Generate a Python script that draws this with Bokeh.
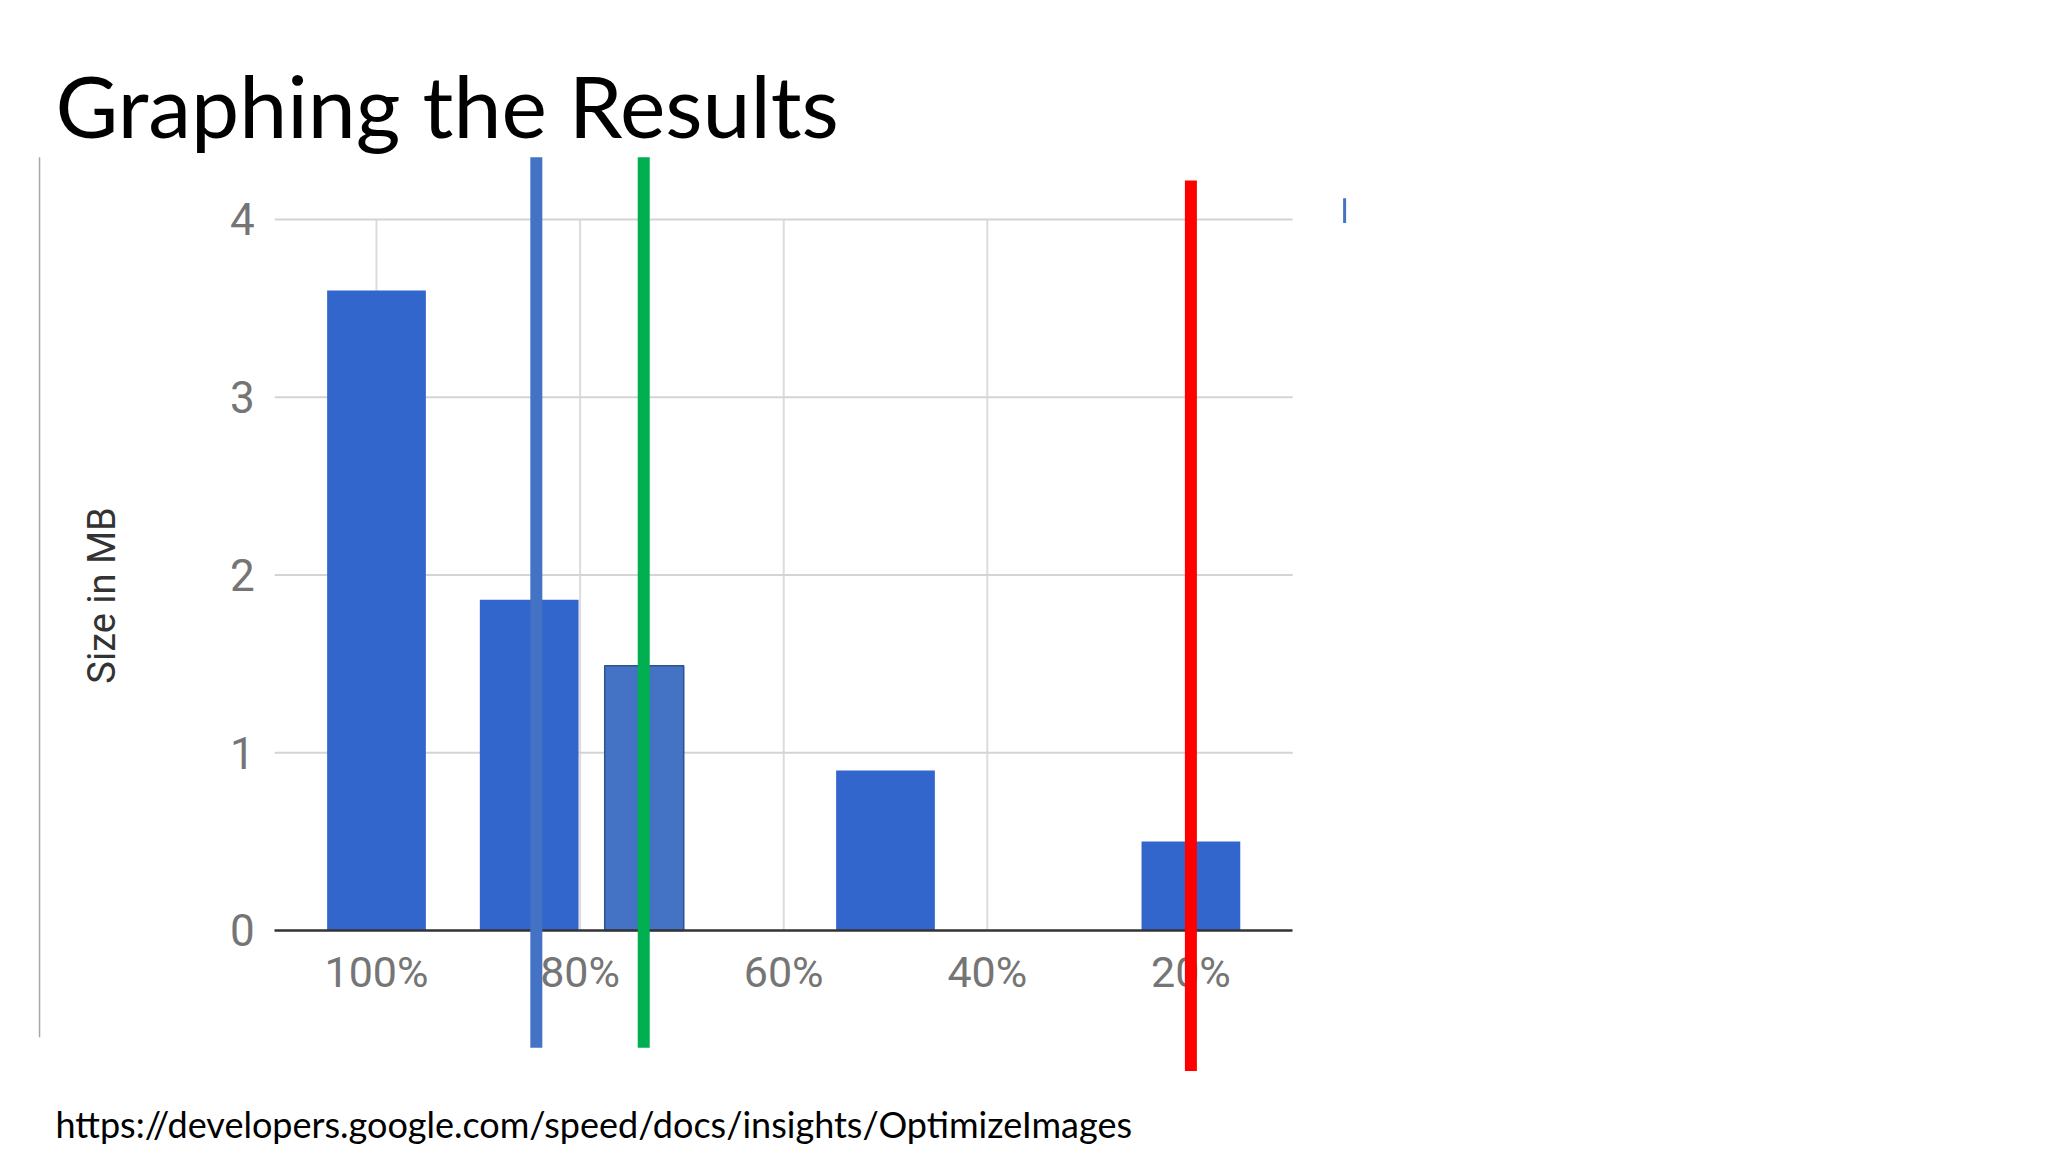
import math
from bokeh.plotting import figure
from bokeh.models import Range1d, FixedTicker, Label
from bokeh.embed import file_html
from bokeh.resources import INLINE

# ---------------- data ----------------
title_text = "Graphing the Results"
y_title = "Size in MB"
source_url = "https://developers.google.com/speed/docs/insights/OptimizeImages"

quality_ticks = [100, 80, 60, 40, 20]
quality_labels = ["100%", "80%", "60%", "40%", "20%"]
size_ticks = [0, 1, 2, 3, 4]

bar_quality = [100, 85, 50, 20]
bar_size_mb = [3.6, 1.86, 0.9, 0.5]

added_bar_quality = [73.7]
added_bar_size_mb = [1.49]

marker_quality = [84.3, 73.75, 20]
marker_top = [4.35, 4.35, 4.22]
marker_bottom = [-0.66, -0.66, -0.79]
marker_colors = ["#4472c4", "#00b050", "#ff0000"]

slide_rule_x = [133.1]
slide_rule_top = [4.35]
slide_rule_bottom = [-0.6]

stray_tick_x = [4.9]
stray_tick_top = [4.12]
stray_tick_bottom = [3.98]

# ---------------- layout constants ----------------
X_LO, X_HI = 10, 110          # extent of the chart's plotting area (in %)
W, H = 2040, 1152
PX_PER_X = 10.18              # pixels per percentage point
PX_PER_Y = 177.75             # pixels per MB
X_LEFT = 136.935
Y_TOP = 5.232

p = figure(width=W, height=H,
           x_range=Range1d(X_LEFT, X_LEFT - W / PX_PER_X),
           y_range=Range1d(Y_TOP - H / PX_PER_Y, Y_TOP),
           output_backend="svg", toolbar_location=None, min_border=0)
p.outline_line_color = None
p.background_fill_color = "white"
p.border_fill_color = "white"
p.xgrid.visible = False
p.ygrid.visible = False

# gridlines (drawn from the tick arrays)
p.segment(x0=quality_ticks, y0=[size_ticks[0]] * len(quality_ticks),
          x1=quality_ticks, y1=[size_ticks[-1]] * len(quality_ticks),
          line_color="#dcdcdc", line_width=2)
p.segment(x0=[X_HI] * (len(size_ticks) - 1), y0=size_ticks[1:],
          x1=[X_LO] * (len(size_ticks) - 1), y1=size_ticks[1:],
          line_color="#d4d4d4", line_width=2)

# bars
p.vbar(x=bar_quality, top=bar_size_mb, width=9.7, bottom=0,
       fill_color="#3366cc", line_color=None)
p.vbar(x=added_bar_quality, top=added_bar_size_mb, width=7.76, bottom=0,
       fill_color="#4472c4", line_color="#2f528f", line_width=1.5)

# slide decorations
p.segment(x0=slide_rule_x, y0=slide_rule_bottom, x1=slide_rule_x, y1=slide_rule_top,
          line_color="#a6a6a6", line_width=1.5)
p.segment(x0=stray_tick_x, y0=stray_tick_bottom, x1=stray_tick_x, y1=stray_tick_top,
          line_color="#4472c4", line_width=3)

# highlight lines drawn on top of everything
mk = p.segment(x0=marker_quality, y0=marker_bottom, x1=marker_quality, y1=marker_top,
               line_color=marker_colors, line_width=12)
mk.level = "overlay"

# axes
xa = p.xaxis[0]
xa.fixed_location = 0
xa.bounds = (X_LO, X_HI)
xa.ticker = FixedTicker(ticks=quality_ticks)
xa.major_label_overrides = {t: l for t, l in zip(quality_ticks, quality_labels)}
xa.axis_line_color = "#333333"
xa.axis_line_width = 2.5
xa.major_tick_line_color = None
xa.minor_tick_line_color = None
xa.major_label_standoff = 11
xa.major_label_text_font = "Roboto"
xa.major_label_text_font_size = "43px"
xa.major_label_text_color = "#757575"

ya = p.yaxis[0]
ya.fixed_location = X_HI
ya.ticker = FixedTicker(ticks=size_ticks)
ya.axis_line_color = None
ya.major_tick_line_color = None
ya.minor_tick_line_color = None
ya.major_label_standoff = 14
ya.major_label_text_font = "Roboto"
ya.major_label_text_font_size = "44px"
ya.major_label_text_color = "#757575"

# texts
p.add_layout(Label(x=131.53, y=4.647, text=title_text, text_font="Lato",
                   text_font_size="86px", text_color="#000000",
                   text_align="left", text_baseline="middle"))
p.add_layout(Label(x=126.92, y=1.885, text=y_title, text_font="Roboto",
                   text_font_size="38px", text_color="#333333", angle=math.pi / 2,
                   text_align="center", text_baseline="middle"))
p.add_layout(Label(x=131.53, y=-1.086, text=source_url, text_font="Lato",
                   text_font_size="36px", text_color="#000000",
                   text_align="left", text_baseline="middle"))

open("out.html", "w").write(file_html(p, INLINE))
